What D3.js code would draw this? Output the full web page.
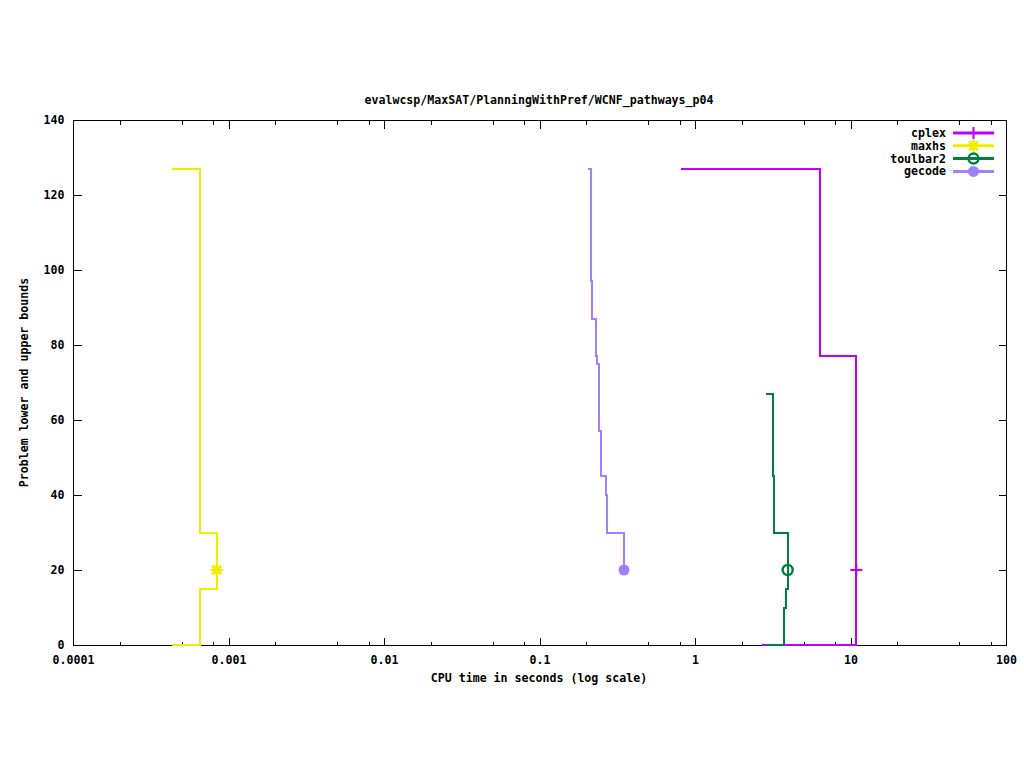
<!DOCTYPE html>
<html>
<head>
<meta charset="utf-8">
<script src="https://cdn.jsdelivr.net/npm/d3@7"></script>
<style>
  body { margin: 0; background: #fff; }
  svg text { font-family: "DejaVu Sans Mono", "Liberation Mono", monospace; font-weight: bold; font-size: 11.6px; fill: #000; }
</style>
</head>
<body>
<script>
// solver names and colours (legend order)
const solvers = ["cplex", "maxhs", "toulbar2", "gecode"];
const colors = ["#c000ff", "#eeee00", "#008040", "#a080ff"];
const markers = ["plus", "star", "circle", "disc"];

// upper bounds: times (s) and values
const cplexUpperT = [0.809, 6.37, 10.9];
const cplexUpperV = [127, 77, 20];
const maxhsUpperT = [0.000435, 0.000651, 0.00084];
const maxhsUpperV = [127, 30, 20];
const toulbar2UpperT = [2.862, 3.161, 3.207, 3.945];
const toulbar2UpperV = [67, 45, 30, 20];
const gecodeUpperT = [0.206, 0.2153, 0.2185, 0.2319, 0.2353, 0.2402, 0.2424, 0.2486, 0.2677, 0.2717, 0.3494];
const gecodeUpperV = [127, 97, 87, 77, 75, 65, 57, 45, 40, 30, 20];

// lower bounds: times (s) and values
const cplexLowerT = [2.698, 10.9];
const cplexLowerV = [0, 20];
const maxhsLowerT = [0.000435, 0.000651, 0.00084];
const maxhsLowerV = [0, 15, 20];
const toulbar2LowerT = [2.862, 3.735, 3.83, 3.945];
const toulbar2LowerV = [0, 10, 15, 20];
const gecodeLowerT = [];
const gecodeLowerV = [];

// optimum found (one point marker per solver)
const optimumT = [10.9, 0.00084, 3.945, 0.3494];
const optimumV = [20, 20, 20, 20];

// axis ticks
const xTicks = [0.0001, 0.001, 0.01, 0.1, 1, 10, 100];
const xTickLabels = ["0.0001", "0.001", "0.01", "0.1", "1", "10", "100"];
const yTicks = [0, 20, 40, 60, 80, 100, 120, 140];

const width = 1024, height = 768;
const plotLeft = 73, plotRight = 1006, plotTop = 120, plotBottom = 645;

const svg = d3.select("body").append("svg").attr("width", width).attr("height", height);

const xScale = d3.scaleLog().domain([0.0001, 100]).range([plotLeft, plotRight]);
const yScale = d3.scaleLinear().domain([0, 140]).range([plotBottom, plotTop]);

// minor ticks at 2, 5, 8 of each decade
const xMinor = [];
xTicks.slice(0, -1).forEach(d => [2, 5, 8].forEach(m => xMinor.push(d * m)));

// frame
svg.append("rect")
  .attr("x", plotLeft + 0.5).attr("y", plotTop + 0.5)
  .attr("width", plotRight - plotLeft).attr("height", plotBottom - plotTop)
  .attr("fill", "none").attr("stroke", "#000").attr("stroke-width", 1);

// X axis, bottom
const gx = svg.append("g").attr("id", "x-axis")
  .attr("transform", "translate(0," + (plotBottom + 0.5) + ")")
  .call(d3.axisBottom(xScale).tickValues(xTicks).tickSize(-8).tickSizeOuter(0).tickPadding(10)
    .tickFormat((d, i) => xTickLabels[i]));
gx.select(".domain").remove();
svg.append("g").attr("transform", "translate(0," + (plotBottom + 0.5) + ")")
  .call(d3.axisBottom(xScale).tickValues(xMinor).tickSize(-4).tickSizeOuter(0).tickFormat(""))
  .select(".domain").remove();

// X axis, top mirror
svg.append("g").attr("transform", "translate(0," + (plotTop + 0.5) + ")")
  .call(d3.axisTop(xScale).tickValues(xTicks).tickSize(-8).tickSizeOuter(0).tickFormat(""))
  .select(".domain").remove();
svg.append("g").attr("transform", "translate(0," + (plotTop + 0.5) + ")")
  .call(d3.axisTop(xScale).tickValues(xMinor).tickSize(-4).tickSizeOuter(0).tickFormat(""))
  .select(".domain").remove();

// Y axis, left and right mirror
const gy = svg.append("g").attr("id", "y-axis")
  .attr("transform", "translate(" + (plotLeft + 0.5) + ",0)")
  .call(d3.axisLeft(yScale).tickValues(yTicks).tickSize(-8).tickSizeOuter(0).tickPadding(9));
gy.select(".domain").remove();
svg.append("g").attr("transform", "translate(" + (plotRight + 0.5) + ",0)")
  .call(d3.axisRight(yScale).tickValues(yTicks).tickSize(-8).tickSizeOuter(0).tickFormat(""))
  .select(".domain").remove();

svg.selectAll(".tick line").attr("stroke", "#000").attr("shape-rendering", "crispEdges");
svg.selectAll(".tick text").attr("fill", "#000");
svg.selectAll("g").attr("font-family", null).attr("font-size", null);

// titles
svg.append("text").attr("x", 539).attr("y", 104).attr("text-anchor", "middle")
  .text("evalwcsp/MaxSAT/PlanningWithPref/WCNF_pathways_p04");
svg.append("text").attr("x", 539).attr("y", 682).attr("text-anchor", "middle")
  .text("CPU time in seconds (log scale)");
svg.append("text").attr("transform", "translate(28," + ((plotTop + plotBottom) / 2) + ") rotate(-90)")
  .attr("text-anchor", "middle")
  .text("Problem lower and upper bounds");

// marker drawing
function marker(g, type, cx, cy, color) {
  const r = 6;
  if (type === "plus") {
    g.append("path").attr("d", `M${cx - r},${cy}H${cx + r}M${cx},${cy - r}V${cy + r}`)
      .attr("stroke", color).attr("stroke-width", 2).attr("fill", "none");
  } else if (type === "star") {
    const q = r * 0.75;
    g.append("path").attr("d", `M${cx - r},${cy}H${cx + r}M${cx},${cy - r}V${cy + r}M${cx - q},${cy - q}L${cx + q},${cy + q}M${cx - q},${cy + q}L${cx + q},${cy - q}`)
      .attr("stroke", color).attr("stroke-width", 2.5).attr("fill", "none");
  } else if (type === "circle") {
    g.append("circle").attr("cx", cx).attr("cy", cy).attr("r", 5)
      .attr("stroke", color).attr("stroke-width", 2.5).attr("fill", "none");
  } else {
    g.append("circle").attr("cx", cx).attr("cy", cy).attr("r", 5.5).attr("fill", color);
  }
}

const upperT = [cplexUpperT, maxhsUpperT, toulbar2UpperT, gecodeUpperT];
const upperV = [cplexUpperV, maxhsUpperV, toulbar2UpperV, gecodeUpperV];
const lowerT = [cplexLowerT, maxhsLowerT, toulbar2LowerT, gecodeLowerT];
const lowerV = [cplexLowerV, maxhsLowerV, toulbar2LowerV, gecodeLowerV];

const line = d3.line().x(d => xScale(d[0])).y(d => yScale(d[1])).curve(d3.curveStepAfter);

const plot = svg.append("g");
solvers.forEach((s, i) => {
  const g = plot.append("g");
  const up = upperT[i].map((t, j) => [t, upperV[i][j]]);
  const lo = lowerT[i].map((t, j) => [t, lowerV[i][j]]);
  if (lo.length) g.append("path").attr("d", line(lo)).attr("fill", "none")
    .attr("stroke", colors[i]).attr("stroke-width", 2).attr("shape-rendering", "crispEdges");
  g.append("path").attr("d", line(up)).attr("fill", "none")
    .attr("stroke", colors[i]).attr("stroke-width", 2).attr("shape-rendering", "crispEdges");
  marker(g, markers[i], xScale(optimumT[i]), yScale(optimumV[i]), colors[i]);
});

// legend
const legend = svg.append("g").attr("id", "legend");
solvers.forEach((s, i) => {
  const ly = 133 + i * 12.8;
  legend.append("text").attr("x", 946).attr("y", ly + 4).attr("text-anchor", "end").text(s);
  legend.append("line").attr("x1", 953).attr("x2", 994).attr("y1", ly).attr("y2", ly)
    .attr("stroke", colors[i]).attr("stroke-width", 3);
  marker(legend, markers[i], 973.5, ly, colors[i]);
});
</script>
</body>
</html>
